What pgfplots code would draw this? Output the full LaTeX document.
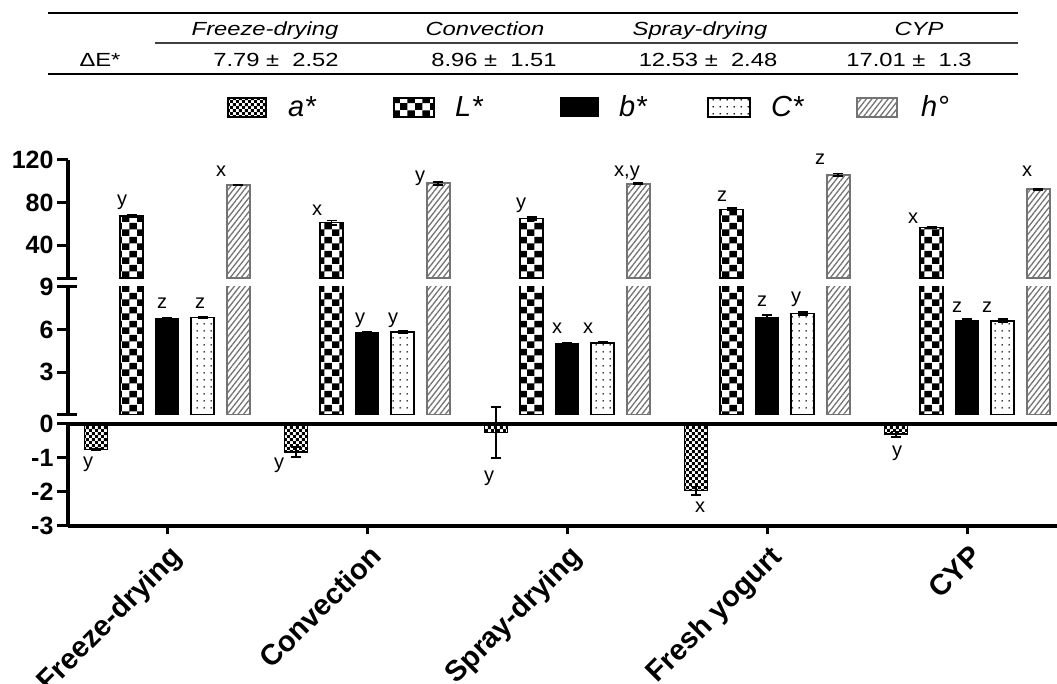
\documentclass[border=0pt]{standalone}
\usepackage{fontspec}
\setmainfont{Liberation Sans}
\usepackage{graphicx}
\usepackage{pgfplots}
\usepackage{pgfplotstable}
\pgfplotsset{compat=1.18}
\usetikzlibrary{patterns,patterns.meta}

\pgfdeclarepatternformonly{smallcheck}{\pgfqpoint{0pt}{0pt}}{\pgfqpoint{6.4pt}{6.4pt}}{\pgfqpoint{6.4pt}{6.4pt}}{%
 \pgfpathrectangle{\pgfqpoint{0pt}{0pt}}{\pgfqpoint{3.2pt}{3.2pt}}%
 \pgfpathrectangle{\pgfqpoint{3.2pt}{3.2pt}}{\pgfqpoint{3.2pt}{3.2pt}}%
 \pgfusepath{fill}}
\pgfdeclarepatternformonly{bigcheck}{\pgfqpoint{0pt}{0pt}}{\pgfqpoint{15.4pt}{14pt}}{\pgfqpoint{15.4pt}{14pt}}{%
 \pgfpathrectangle{\pgfqpoint{0pt}{0pt}}{\pgfqpoint{7.7pt}{7pt}}%
 \pgfpathrectangle{\pgfqpoint{7.7pt}{7pt}}{\pgfqpoint{7.7pt}{7pt}}%
 \pgfusepath{fill}}
\pgfdeclarepatternformonly{smalldots}{\pgfqpoint{0pt}{0pt}}{\pgfqpoint{6.7pt}{7pt}}{\pgfqpoint{6.7pt}{7pt}}{%
 \pgfpathcircle{\pgfqpoint{3.35pt}{3.5pt}}{0.95pt}\pgfusepath{fill}}

\tikzset{
 astar/.style={draw=black, line width=1.4pt, pattern=smallcheck},
 lstar/.style={draw=black, line width=1.6pt, pattern=bigcheck},
 bstar/.style={draw=black, line width=1pt, fill=black},
 cstar/.style={draw=black, line width=1.6pt, pattern=smalldots},
 hdeg/.style={draw=black!55, line width=2pt, pattern={Lines[angle=52,distance=4.3pt,line width=1.3pt]}, pattern color=black!55},
 lbl/.style={anchor=base, inner sep=0pt, font=\lblfont},
}
\newcommand\ticfont{\fontsize{25pt}{25pt}\selectfont\bfseries}
\newcommand\xfont{\fontsize{29pt}{29pt}\selectfont\bfseries}
\newcommand\lblfont{\fontsize{20pt}{20pt}\selectfont}
\newcommand\tabfont{\fontsize{19pt}{19pt}\selectfont}
\newcommand\legfont{\fontsize{29pt}{29pt}\selectfont\itshape}
\newcommand\tx[1]{\scalebox{1.25}[1]{\tabfont #1}}

\pgfplotstableread{
x a ae L Le b be C Ce h he
0 -0.75 0.03 67.3 0.6 6.78 0.05 6.85 0.05 96.5 0.3
1 -0.82 0.15 61.0 2.0 5.77 0.05 5.82 0.06 98.1 1.3
2 -0.25 0.75 65.1 1.2 5.03 0.05 5.07 0.06 97.7 0.8
3 -1.96 0.12 73.6 1.2 6.85 0.15 7.13 0.10 106.2 1.0
4 -0.30 0.08 56.3 0.8 6.66 0.08 6.61 0.10 92.4 0.5
}\datatable

\pgfplotsset{
 base/.style={scale only axis, width=989pt, xmin=-0.495, xmax=4.45,
   tick align=outside, major tick length=11pt,
   axis line style={line width=3.3pt},
   tick style={line width=3pt, black},
   yticklabel style={font=\ticfont},
   clip mode=individual,
 },
 myerr/.style={/pgfplots/error bars/y dir=both, /pgfplots/error bars/y explicit,
   /pgfplots/error bars/error bar style={line width=1.8pt,black},
   /pgfplots/error bars/error mark options={rotate=90,mark size=5pt,line width=1.8pt,black}},
 bw/.style={ybar, bar width=0.115, bar shift=0},
}

\begin{document}
\begin{tikzpicture}
\path[use as bounding box] (0,0) rectangle (1057pt,684pt);

% top segment
\begin{axis}[base, at={(68pt,405.7pt)}, anchor=south west, height=118.3pt,
  ymin=8.7, ymax=120, axis x line=none, axis y line*=left,
  ytick={40,80,120}, yticklabels={\textbf{40},\textbf{80},\textbf{120}}, xtick=\empty]
\addplot[bw, lstar, myerr] table[x expr=\thisrow{x}-0.1775,y=L,y error=Le]{\datatable};
\addplot[bw, hdeg, myerr] table[x expr=\thisrow{x}+0.355,y=h,y error=he]{\datatable};
\draw[line width=3pt] ([xshift=-11pt]rel axis cs:0,0) -- ([xshift=9pt]rel axis cs:0,0);
\node[lbl] at (axis cs:-0.225,77.6) {y};
\node[lbl] at (axis cs:0.27,104.9) {x};
\node[lbl] at (axis cs:0.75,68.2) {x};
\node[lbl] at (axis cs:1.265,100.2) {y};
\node[lbl] at (axis cs:1.77,74.8) {y};
\node[lbl] at (axis cs:2.3,104.9) {x,y};
\node[lbl] at (axis cs:2.775,80.5) {z};
\node[lbl] at (axis cs:3.265,115.3) {z};
\node[lbl] at (axis cs:3.73,60.7) {x};
\node[lbl] at (axis cs:4.3,104) {x};
\end{axis}

% middle segment
\begin{axis}[base, at={(68pt,269pt)}, anchor=south west, height=128.3pt,
  ymin=0, ymax=9, axis x line=none, axis y line*=left,
  ytick={3,6,9}, yticklabels={\textbf{3},\textbf{6},\textbf{9}}, xtick=\empty]
\addplot[bw, lstar, myerr] table[x expr=\thisrow{x}-0.1775,y=L,y error=Le]{\datatable};
\addplot[bw, bstar, myerr] table[x expr=\thisrow{x},y=b,y error=be]{\datatable};
\addplot[bw, cstar, myerr] table[x expr=\thisrow{x}+0.1775,y=C,y error=Ce]{\datatable};
\addplot[bw, hdeg, myerr] table[x expr=\thisrow{x}+0.355,y=h,y error=he]{\datatable};
\draw[line width=3pt] ([xshift=-11pt]rel axis cs:0,0) -- ([xshift=9pt]rel axis cs:0,0);
\draw[line width=3pt] ([xshift=-11pt]rel axis cs:0,1) -- ([xshift=9pt]rel axis cs:0,1);
\node[lbl] at (axis cs:-0.025,7.5) {z};
\node[lbl] at (axis cs:0.165,7.5) {z};
\node[lbl] at (axis cs:0.965,6.45) {y};
\node[lbl] at (axis cs:1.13,6.45) {y};
\node[lbl] at (axis cs:1.95,5.75) {x};
\node[lbl] at (axis cs:2.105,5.75) {x};
\node[lbl] at (axis cs:2.975,7.64) {z};
\node[lbl] at (axis cs:3.145,7.92) {y};
\node[lbl] at (axis cs:3.95,7.22) {z};
\node[lbl] at (axis cs:4.1,7.22) {z};
\end{axis}

% bottom segment
\begin{axis}[base, at={(68pt,158pt)}, anchor=south west, height=102pt,
  ymin=-3, ymax=0, axis lines*=left, clip=false,
  ytick={-3,-2,-1,0}, yticklabels={\textbf{-3},\textbf{-2},\textbf{-1},\textbf{0}},
  xtick={0,1,2,3,4},
  xtick style={/pgfplots/major tick length=8pt},
  xticklabels={Freeze-drying,Convection,Spray-drying,Fresh yogurt,CYP},
  xticklabel style={rotate=45, anchor=north east, font=\xfont, yshift=-2pt}]
\addplot[bw, astar, myerr] table[x expr=\thisrow{x}-0.355,y=a,y error=ae]{\datatable};
\draw[line width=4.3pt] (rel axis cs:0,1) -- (rel axis cs:1,1);
\node[lbl] at (axis cs:-0.395,-1.29) {y};
\node[lbl] at (axis cs:0.56,-1.32) {y};
\node[lbl] at (axis cs:1.61,-1.68) {y};
\node[lbl] at (axis cs:2.665,-2.59) {x};
\node[lbl] at (axis cs:3.65,-0.97) {y};
\end{axis}

% table
\draw[line width=1.6pt] (48pt,670.7pt) -- (1018pt,670.7pt);
\draw[line width=2pt, black!75] (155pt,640.7pt) -- (1018pt,640.7pt);
\draw[line width=1.6pt] (48pt,609.7pt) -- (1018pt,609.7pt);
\node[anchor=base, inner sep=0pt] at (265pt,648pt) {\tx{\itshape Freeze-drying}};
\node[anchor=base, inner sep=0pt] at (485pt,648pt) {\tx{\itshape Convection}};
\node[anchor=base, inner sep=0pt] at (700pt,648pt) {\tx{\itshape Spray-drying}};
\node[anchor=base, inner sep=0pt] at (919pt,648pt) {\tx{\itshape CYP}};
\node[anchor=base, inner sep=0pt] at (100pt,617pt) {\tx{ΔE*}};
\node[anchor=base, inner sep=0pt] at (276pt,617pt) {\tx{7.79 ±\ \ 2.52}};
\node[anchor=base, inner sep=0pt] at (494pt,617pt) {\tx{8.96 ±\ \ 1.51}};
\node[anchor=base, inner sep=0pt] at (708pt,617pt) {\tx{12.53 ±\ \ 2.48}};
\node[anchor=base, inner sep=0pt] at (909pt,617pt) {\tx{17.01 ±\ \ 1.3}};

% legend
\path[astar] (228pt,567pt) rectangle (266pt,586pt);
\node[anchor=base west, inner sep=0pt, font=\legfont] at (288pt,567pt) {a*};
\path[lstar] (394pt,567pt) rectangle (434pt,586pt);
\node[anchor=base west, inner sep=0pt, font=\legfont] at (455pt,567pt) {L*};
\path[bstar] (560pt,567pt) rectangle (598pt,586pt);
\node[anchor=base west, inner sep=0pt, font=\legfont] at (619pt,567pt) {b*};
\path[cstar] (708pt,567pt) rectangle (750pt,586pt);
\node[anchor=base west, inner sep=0pt, font=\legfont] at (771pt,567pt) {C*};
\path[hdeg] (857pt,567pt) rectangle (897pt,586pt);
\node[anchor=base west, inner sep=0pt, font=\legfont] at (921pt,567pt) {h°};
\end{tikzpicture}
\end{document}
